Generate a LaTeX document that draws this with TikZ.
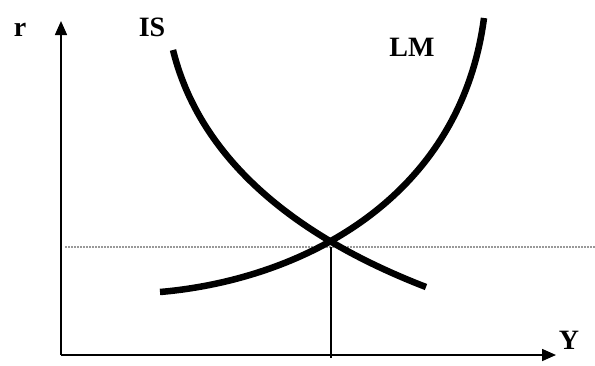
\documentclass[tikz,border=0pt]{standalone}
\usepackage{fontspec}
\setmainfont{Liberation Serif}
\usetikzlibrary{arrows.meta}
\begin{document}
\begin{tikzpicture}[x=1pt,y=-1pt,
  axis/.style={line width=1.6pt,-{Triangle[length=14pt,width=12pt]}},
  curve/.style={line width=6.5pt,line cap=butt},
  lbl/.style={font=\bfseries\fontsize{28}{28}\selectfont,inner sep=0pt},
  guide/.style={line width=1.8pt,gray!80,dash pattern=on 2pt off 1pt}]
\useasboundingbox (0,0) rectangle (595,365);
\coordinate (O) at (61,355);
\coordinate (ytop) at (61,21);
\coordinate (xend) at (556,355);
\coordinate (E) at (331,247);
\coordinate (gl) at (65,247);
\coordinate (gr) at (595,247);
\coordinate (Ex) at (331,358);
\draw[axis] (O) -- (ytop);
\draw[axis] (O) -- (xend);
\draw[guide] (gl) -- (gr);
\draw[line width=1.6pt] (E) -- (Ex);
\coordinate (is1) at (173,50);
\coordinate (is2) at (426,287);
\coordinate (lm1) at (160,292);
\coordinate (lm2) at (484,18);
\draw[curve] (is1) .. controls (205,180) and (330,250) .. (is2);
\draw[curve] (lm1) .. controls (300,280) and (460,200) .. (lm2);
\node[lbl] (r) at (20,30) {r};
\node[lbl] (IS) at (152,27) {IS};
\node[lbl] (LM) at (412,47) {LM};
\node[lbl] (Y) at (569,340) {Y};
\end{tikzpicture}
\end{document}
